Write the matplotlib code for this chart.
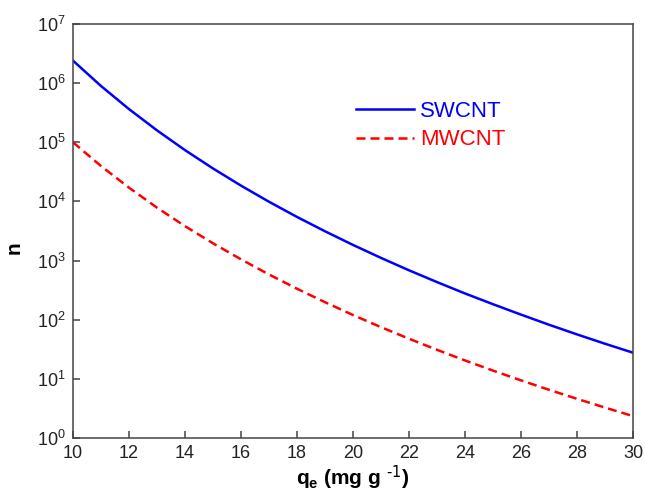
import matplotlib
matplotlib.use('Agg')
import matplotlib.pyplot as plt
import matplotlib.ticker as ticker
import numpy as np

plt.rcParams['font.family'] = ['Liberation Sans', 'DejaVu Sans']
plt.rcParams['mathtext.default'] = 'regular'

# equilibrium uptake (mg/g) and number of layers n
qe = [10, 11, 12, 13, 14, 15, 16, 17, 18, 19, 20,
      21, 22, 23, 24, 25, 26, 27, 28, 29, 30]
n_swcnt = [2.40e6, 8.95e5, 3.64e5, 1.59e5, 7.37e4, 3.61e4, 1.85e4, 9.88e3,
           5.47e3, 3.13e3, 1.84e3, 1.11e3, 685, 433, 278, 183, 122, 82.3,
           56.5, 39.3, 27.7]
n_mwcnt = [1.00e5, 3.97e4, 1.71e4, 7.85e3, 3.82e3, 1.96e3, 1.05e3, 582,
           334, 198, 120, 74.9, 47.7, 31.0, 20.5, 13.8, 9.44, 6.54,
           4.60, 3.27, 2.35]
labels = ['SWCNT', 'MWCNT']

fig = plt.figure(figsize=(6.45, 4.91), dpi=100)
ax = fig.add_axes([0.1132, 0.1079, 0.8682, 0.8432])

ax.plot(qe, n_swcnt, color='#0000ff', lw=1.8, label=labels[0])
ax.plot(qe, n_mwcnt, color='#ff0000', lw=1.8, linestyle=(0, (3.6, 2.0)),
        label=labels[1])

ax.set_yscale('log')
ax.set_xlim(10, 30)
ax.set_ylim(1, 1e7)
ax.set_xticks(np.arange(10, 31, 2))
ax.yaxis.set_major_locator(ticker.LogLocator(base=10, numticks=10))
ax.yaxis.set_minor_locator(ticker.NullLocator())

for s in ax.spines.values():
    s.set_color('#444444')
    s.set_linewidth(1.1)
ax.tick_params(direction='in', length=5, width=1.1, color='#444444',
               labelsize=13, labelcolor='#222222', pad=5)

ax.set_xlabel(r'q$_e$ (mg g $^{\text{-1}}$)', fontsize=15, fontweight='bold',
              labelpad=1)
ax.set_ylabel('n', fontsize=15, fontweight='bold')
ax.yaxis.set_label_coords(-0.089, 0.459)

ax.legend(loc='upper left', bbox_to_anchor=(0.505, 0.815), frameon=False,
          fontsize=16, handlelength=2.6, handletextpad=0.3,
          labelspacing=0.35, borderpad=0, borderaxespad=0,
          labelcolor='linecolor')

fig.savefig('out.png', dpi=100)
